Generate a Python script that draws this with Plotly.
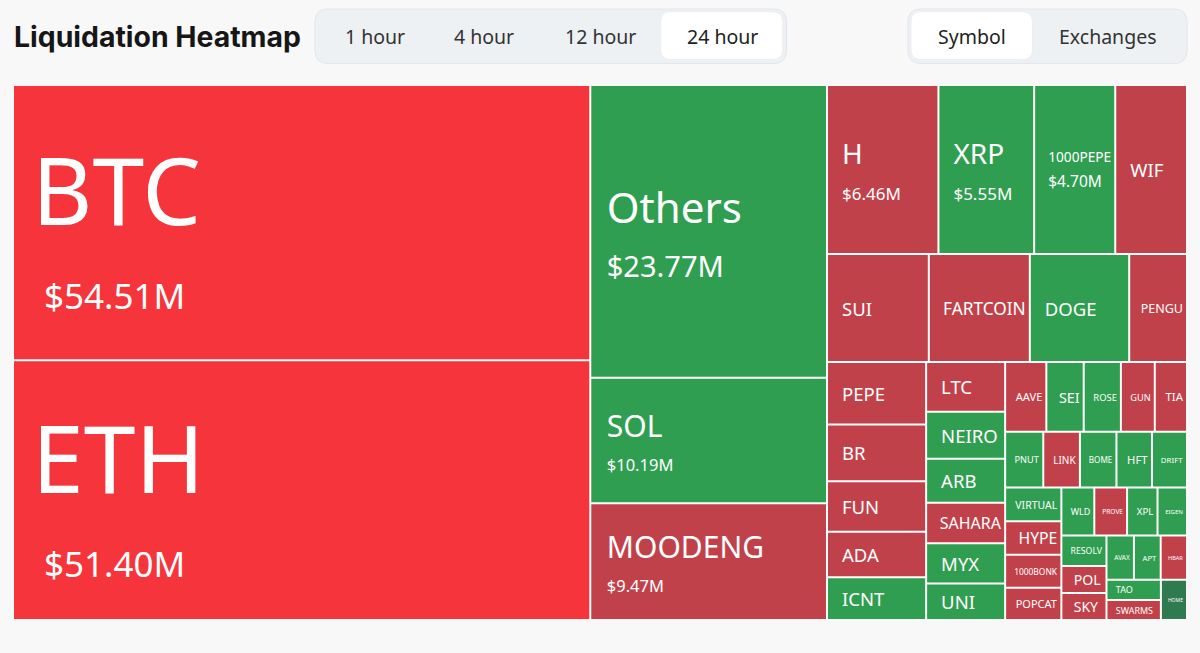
import math
import plotly.graph_objects as go

# ---------------- data ----------------
symbols = ["BTC", "ETH", "Others", "SOL", "MOODENG", "H", "XRP", "1000PEPE", "WIF", "SUI",
           "FARTCOIN", "DOGE", "PENGU", "PEPE", "BR", "FUN", "ADA", "ICNT", "LTC", "NEIRO",
           "ARB", "SAHARA", "MYX", "UNI", "AAVE", "SEI", "ROSE", "GUN", "TIA", "PNUT",
           "LINK", "BOME", "HFT", "DRIFT", "VIRTUAL", "HYPE", "1000BONK", "POPCAT", "WLD", "PROVE",
           "XPL", "EIGEN", "RESOLV", "POL", "SKY", "AVAX", "APT", "HBAR", "TAO", "SWARMS", "HOME"]
liq_musd = [54.51, 51.40, 23.77, 10.19, 9.47, 6.46, 5.55, 4.70, 4.16, 3.77,
            3.74, 3.68, 2.14, 2.12, 1.93, 1.72, 1.55, 1.45, 1.35, 1.27,
            1.19, 1.10, 1.09, 0.99, 0.985, 0.893, 0.889, 0.81, 0.77, 0.73,
            0.701, 0.699, 0.68, 0.67, 0.65, 0.648, 0.634, 0.623, 0.543, 0.540,
            0.502, 0.486, 0.47, 0.419, 0.417, 0.415, 0.405, 0.398, 0.377, 0.375, 0.361]
# R = strong red, r = red, g = green, G = dark green
tone = ["R", "R", "g", "g", "r", "r", "g", "g", "r", "r",
        "r", "g", "r", "r", "r", "r", "r", "g", "r", "g",
        "g", "r", "g", "g", "r", "g", "g", "r", "r", "g",
        "r", "g", "g", "g", "g", "r", "r", "r", "g", "r",
        "g", "g", "g", "r", "r", "g", "g", "r", "g", "r", "G"]
time_ranges = ["1 hour", "4 hour", "12 hour", "24 hour"]
selected_range = "24 hour"
group_modes = ["Symbol", "Exchanges"]
selected_mode = "Symbol"
title_text = "Liquidation Heatmap"

# ---------------- layout helpers ----------------
FIG_W, FIG_H = 1200, 653
ML, MR, MT, MB = 14, 14, 86, 34
PW = FIG_W - ML - MR
PH = FIG_H - MT - MB


def px(x):
    return (x - ML) / PW


def py(y):
    return (FIG_H - MB - y) / PH


TONE_COLORS = {"R": "#F5353B", "r": "#C1414A", "g": "#2F9E50", "G": "#2F7A4F"}
SPACE_EM = 0.26


def spacer(pad_px, max_size):
    n = max(1, math.ceil(pad_px / (SPACE_EM * max_size)))
    size = pad_px / (SPACE_EM * n)
    return "<span style='font-size:%.2fpx'>%s</span>" % (size, "\u00a0" * n)


# (label size, value size, base size, label pad, value pad)
TIER = {
    "BTC": (93, 35, 64.6, 15, 27),
    "ETH": (93, 35, 64.6, 15, 27),
    "Others": (42, 29, 42, 12.5, 12.5),
    "SOL": (30, 16.5, 26, 12.5, 12.5),
    "MOODENG": (30, 16.5, 26, 12.5, 12.5),
    "H": (28, 17, 27, 11, 11),
    "XRP": (28, 17, 27, 11, 11),
    "1000PEPE": (15, 17, 20.5, 11, 11),
}
DEFAULT_TIER = (18.5, None, 18.5, 11, 11)

texts, base_sizes = [], []
for sym, val in zip(symbols, liq_musd):
    ls, vs, bs, lp, vp = TIER.get(sym, DEFAULT_TIER)
    if vs is None:
        t = spacer(lp, ls) + sym
    else:
        t = (spacer(lp, ls) + "<span style='font-size:%spx'>%s</span>" % (ls, sym) + "<br>" +
             spacer(vp, vs) + "<span style='font-size:%spx'>$%.2fM</span>" % (vs, val))
    texts.append(t)
    base_sizes.append(bs)

colors = [TONE_COLORS[t] for t in tone]

fig = go.Figure(go.Treemap(
    labels=symbols,
    parents=[""] * len(symbols),
    values=liq_musd,
    text=texts,
    texttemplate="%{text}",
    textposition="middle left",
    textfont=dict(family="Noto Sans", size=base_sizes, color="#ffffff"),
    marker=dict(colors=colors, line=dict(width=0), pad=dict(t=0, l=0, r=0, b=0), depthfade=False),
    tiling=dict(packing="squarify", squarifyratio=(1 + 5 ** 0.5) / 2, pad=2),
    pathbar=dict(visible=False),
    sort=True,
    hoverinfo="skip",
    root=dict(color="#ffffff"),
))


def rounded_rect(x0, y0, x1, y1, r):
    pts = [("M", x0 + r, y0), ("L", x1 - r, y0), ("Q", x1, y0, x1, y0 + r), ("L", x1, y1 - r),
           ("Q", x1, y1, x1 - r, y1), ("L", x0 + r, y1), ("Q", x0, y1, x0, y1 - r),
           ("L", x0, y0 + r), ("Q", x0, y0, x0 + r, y0)]
    out = []
    for p in pts:
        cmd, coords = p[0], p[1:]
        pairs = ["%.5f,%.5f" % (px(coords[i]), py(coords[i + 1])) for i in range(0, len(coords), 2)]
        out.append(cmd + " " + " ".join(pairs))
    return " ".join(out) + " Z"


shapes = [
    dict(type="rect", xref="paper", yref="paper", x0=0, x1=1, y0=0, y1=1,
         fillcolor="#ffffff", line=dict(width=0), layer="below"),
    dict(type="path", xref="paper", yref="paper", path=rounded_rect(315, 9, 786.5, 63.5, 13),
         fillcolor="#EEF1F4", line=dict(color="#E3E6EA", width=1), layer="below"),
    dict(type="path", xref="paper", yref="paper", path=rounded_rect(908, 9, 1187, 63.5, 13),
         fillcolor="#EEF1F4", line=dict(color="#E3E6EA", width=1), layer="below"),
    dict(type="path", xref="paper", yref="paper", path=rounded_rect(660.7, 11.7, 782.7, 59.5, 10),
         fillcolor="#FFFFFF", line=dict(color="#E6E8EC", width=0.6), layer="below"),
    dict(type="path", xref="paper", yref="paper", path=rounded_rect(911, 11.7, 1032.5, 59.5, 10),
         fillcolor="#FFFFFF", line=dict(color="#E6E8EC", width=0.6), layer="below"),
]

annotations = [dict(text="<b>%s</b>" % title_text, x=px(12), y=py(36), xref="paper", yref="paper",
                    xanchor="left", yanchor="middle", showarrow=False,
                    font=dict(family="Inter", size=28.4, color="#161616"))]
range_centers = [375, 484, 600, 722]
for label, cx in zip(time_ranges, range_centers):
    annotations.append(dict(text=label, x=px(cx), y=py(36), xref="paper", yref="paper",
                            xanchor="center", yanchor="middle", showarrow=False,
                            font=dict(family="Noto Sans", size=19.5,
                                      color="#222222" if label == selected_range else "#333333")))
mode_centers = [972, 1107.5]
for label, cx in zip(group_modes, mode_centers):
    annotations.append(dict(text=label, x=px(cx), y=py(36), xref="paper", yref="paper",
                            xanchor="center", yanchor="middle", showarrow=False,
                            font=dict(family="Noto Sans", size=19.5,
                                      color="#222222" if label == selected_mode else "#333333")))

fig.update_layout(
    width=FIG_W, height=FIG_H,
    margin=dict(l=ML, r=MR, t=MT, b=MB, pad=0),
    paper_bgcolor="#F8F8F8",
    plot_bgcolor="#F8F8F8",
    shapes=shapes,
    annotations=annotations,
    showlegend=False,
)

fig.write_html("out.html", config={"displayModeBar": False},
               post_script="document.body.style.margin='0';document.body.style.background='#F8F8F8';")
